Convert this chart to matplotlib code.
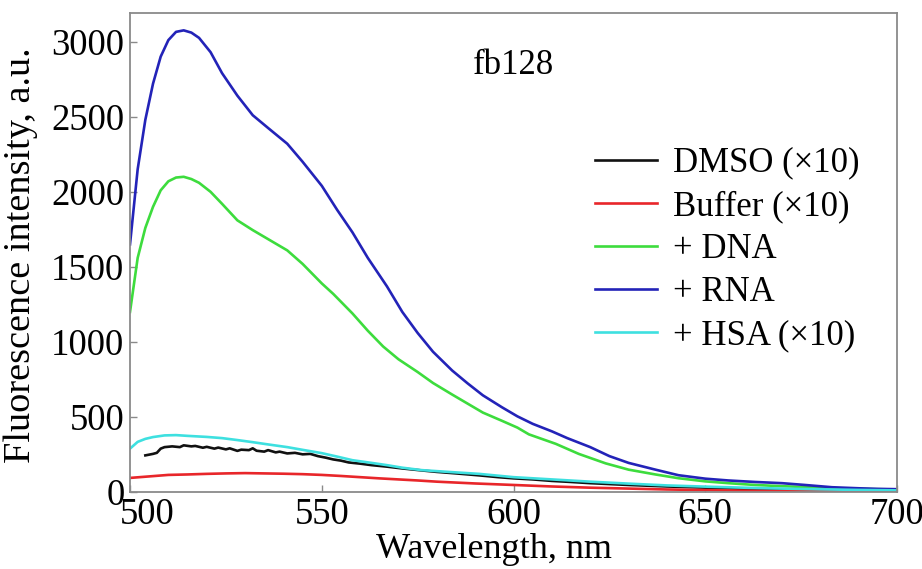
import numpy as np
import matplotlib
matplotlib.use('Agg')
import matplotlib.pyplot as plt
from matplotlib.transforms import ScaledTranslation

# emission spectra of fb128
dmso_wl = [504, 506, 507, 508, 509, 511, 513, 514, 516, 517, 519, 520, 522, 523, 525, 526,
           528, 529, 531, 532, 533, 535, 536, 538, 539, 541, 543, 545, 547, 549, 551, 553,
           555, 557, 560, 563, 567, 571, 576, 580, 585, 591, 596, 600, 605, 610, 615, 620,
           630, 640, 650, 660, 670, 680, 690, 700]
dmso = [245, 255, 262, 290, 300, 305, 300, 312, 305, 308, 296, 302, 290, 297, 285, 292,
        275, 283, 280, 292, 276, 270, 280, 265, 270, 258, 262, 252, 255, 240, 230, 218,
        210, 198, 190, 180, 170, 158, 145, 135, 125, 112, 100, 92, 85, 75, 68, 60,
        48, 38, 30, 22, 16, 12, 9, 8]

buffer_wl = [500, 505, 510, 515, 520, 525, 530, 535, 540, 545, 550, 555, 560, 565, 570, 575,
             580, 590, 600, 610, 620, 630, 640, 650, 660, 670, 680, 690, 700]
buffer = [95, 105, 115, 118, 122, 125, 127, 125, 123, 120, 115, 108, 100, 92, 85, 78,
          70, 58, 48, 38, 30, 24, 18, 14, 10, 8, 6, 5, 4]

dna_wl = [500, 502, 504, 506, 508, 510, 512, 514, 516, 518, 521, 524, 528, 532, 536, 541,
          545, 550, 553, 558, 562, 566, 570, 575, 579, 584, 588, 592, 597, 601, 604, 611,
          617, 624, 630, 637, 643, 650, 656, 663, 670, 680, 690, 700]
dna = [1200, 1560, 1760, 1900, 2010, 2070, 2095, 2100, 2085, 2060, 2000, 1920, 1810, 1745, 1685, 1610,
       1520, 1390, 1320, 1190, 1075, 970, 885, 800, 727, 650, 590, 530, 475, 430, 385, 322,
       255, 192, 150, 118, 93, 72, 60, 48, 40, 30, 22, 18]

rna_wl = [500, 502, 504, 506, 508, 510, 512, 514, 516, 518, 521, 524, 528, 532, 536, 541,
          545, 550, 554, 558, 562, 567, 571, 575, 579, 584, 588, 592, 597, 601, 605, 610,
          614, 620, 625, 630, 637, 643, 650, 656, 663, 670, 676, 683, 690, 695, 700]
rna = [1650, 2150, 2480, 2720, 2900, 3010, 3065, 3075, 3060, 3025, 2930, 2790, 2640, 2510, 2425, 2320,
       2200, 2040, 1880, 1730, 1560, 1370, 1200, 1060, 935, 810, 725, 645, 565, 505, 455, 405,
       360, 300, 240, 195, 150, 113, 90, 78, 68, 60, 48, 33, 26, 22, 20]

hsa_wl = [500, 502, 504, 506, 509, 512, 515, 520, 524, 528, 532, 536, 541, 545, 550, 554,
          558, 563, 567, 571, 576, 583, 591, 600, 610, 620, 630, 640, 650, 660, 670, 680,
          690, 700]
hsa = [290, 335, 355, 367, 378, 380, 375, 368, 360, 347, 333, 318, 300, 282, 260, 237,
       213, 195, 180, 163, 147, 135, 122, 100, 85, 70, 57, 45, 37, 30, 24, 19,
       15, 12]

labels = ['DMSO (×10)', 'Buffer (×10)', '+ DNA', '+ RNA', '+ HSA (×10)']
colors = ['#111111', '#e8262a', '#3ddc3d', '#2323b8', '#3ee0e0']

plt.rcParams['font.family'] = ['Liberation Serif', 'DejaVu Serif']

fig = plt.figure(figsize=(9.22, 5.69), dpi=100)
ax = fig.add_axes([0.141, 0.135, 0.832, 0.842])

series = [(dmso_wl, dmso), (buffer_wl, buffer), (dna_wl, dna), (rna_wl, rna), (hsa_wl, hsa)]
for (wl, y), lab, c in zip(series, labels, colors):
    ax.plot(wl, y, color=c, lw=1.9, label=lab)

ax.set_xlim(500, 700)
ax.set_ylim(0, 3190)
ax.set_xticks([500, 550, 600, 650, 700])
ax.set_yticks([0, 500, 1000, 1500, 2000, 2500, 3000])

for sp in ax.spines.values():
    sp.set_color('#8a8a8a')
    sp.set_linewidth(1.3)
ax.tick_params(direction='in', length=5, width=1, color='#8a8a8a',
               labelsize=26.5, pad=4)

ax.set_xlabel('Wavelength, nm', fontsize=26)
ax.set_ylabel('Fluorescence intensity, a.u.', fontsize=27.5)
ax.xaxis.set_label_coords(0.475, -0.085)
ax.yaxis.set_label_coords(-0.12, 0.495)

# nudge the first x label right so it clears the "0"
fig.canvas.draw()
first = ax.get_xticklabels()[0]
first.set_transform(first.get_transform() + ScaledTranslation(0.17, 0, fig.dpi_scale_trans))

ax.text(0.5, 0.89, 'fb128', transform=ax.transAxes, ha='center', va='center', fontsize=25)

ax.legend(loc='upper left', bbox_to_anchor=(0.588, 0.75), frameon=False, fontsize=25,
          handlelength=1.8, handletextpad=0.45, labelspacing=0.29, borderaxespad=0)

fig.savefig('out.png', dpi=100)
